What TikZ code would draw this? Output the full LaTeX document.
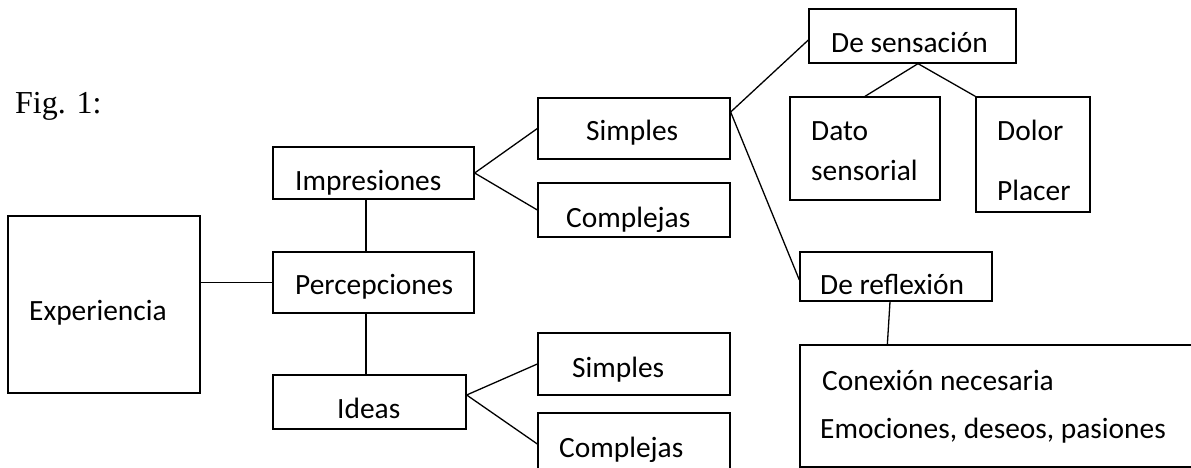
\documentclass[tikz,border=0pt]{standalone}
\usepackage{fontspec}
\setmainfont{Carlito}
\newfontfamily\figfont{Liberation Serif}
\begin{document}
\begin{tikzpicture}[x=1pt,y=-1pt,
  box/.style={draw, line width=1.3pt, rectangle, inner sep=0pt},
  lbl/.style={anchor=base west, inner sep=0pt, font=\fontsize{29.4}{35}\selectfont},
  conn/.style={line width=1.3pt}]
\useasboundingbox (0,0) rectangle (1191,468);
\clip (0,0) rectangle (1191,468);
\fill[white] (0,0) rectangle (1191,468);
% title
\node[anchor=base west, inner sep=0pt, font=\figfont\fontsize{32}{38}\selectfont] (fig) at (15,114) {Fig. 1:};
% boxes
\node[box, minimum width=192pt, minimum height=177pt] (exp) at (104,304.5) {};
\node[box, minimum width=201pt, minimum height=52pt] (imp) at (373.5,173) {};
\node[box, minimum width=201pt, minimum height=61pt] (perc) at (373.5,282.5) {};
\node[box, minimum width=193pt, minimum height=54pt] (ideas) at (369.5,402) {};
\node[box, minimum width=192pt, minimum height=61pt] (s1) at (634,128.5) {};
\node[box, minimum width=192pt, minimum height=54pt] (c1) at (634,210) {};
\node[box, minimum width=192pt, minimum height=62pt] (s2) at (634,364) {};
\node[box, minimum width=192pt, minimum height=62pt] (c2) at (634,444) {};
\node[box, minimum width=207pt, minimum height=54pt] (sens) at (912.5,36) {};
\node[box, minimum width=150pt, minimum height=103pt] (dato) at (865,148.5) {};
\node[box, minimum width=114pt, minimum height=115pt] (dolor) at (1033,154.5) {};
\node[box, minimum width=192pt, minimum height=49pt] (refl) at (896,276.5) {};
\node[box, minimum width=420pt, minimum height=122pt] (big) at (1010,406) {};
% texts
\node[lbl] (texp) at (29,320) {Experiencia};
\node[lbl] (timp) at (295,190) {Impresiones};
\node[lbl] (tperc) at (295,294) {Percepciones};
\node[lbl] (tideas) at (337,418) {Ideas};
\node[lbl] (ts1) at (586,141) {Simples};
\node[lbl] (tc1) at (566,227) {Complejas};
\node[lbl] (ts2) at (572,377) {Simples};
\node[lbl] (tc2) at (559,457) {Complejas};
\node[lbl] (tsens) at (831,53) {De sensación};
\node[lbl] (tdato1) at (811,140) {Dato};
\node[lbl] (tdato2) at (811,180) {sensorial};
\node[lbl] (tdolor) at (997,140) {Dolor};
\node[lbl] (tplacer) at (997,200) {Placer};
\node[lbl] (trefl) at (820,294) {De reflexión};
\node[lbl] (tcon) at (822,390) {Conexión necesaria};
\node[lbl] (temo) at (820,438) {Emociones, deseos, pasiones};
% connectors
\draw[conn] (perc.west) -- (perc.west -| exp.east);
\draw[conn] ([xshift=-7.5pt]imp.south) -- ([xshift=-7.5pt]perc.north);
\draw[conn] ([xshift=-7.5pt]perc.south) -- ([xshift=-3.5pt]ideas.north);
\draw[conn] (s1.west) -- (imp.east) -- (c1.west);
\draw[conn] (s2.west) -- ([yshift=7pt]ideas.east) -- (c2.west);
\draw[conn] ([yshift=-4pt]sens.west) -- ([yshift=16.5pt]s1.east) -- ([yshift=-3.5pt]refl.west);
\draw[conn] (dato.north) -- ([xshift=5.5pt]sens.south) -- (dolor.north west);
\draw[conn] ([xshift=-6pt]refl.south) -- ([xshift=88pt]big.north west);
\end{tikzpicture}
\end{document}
